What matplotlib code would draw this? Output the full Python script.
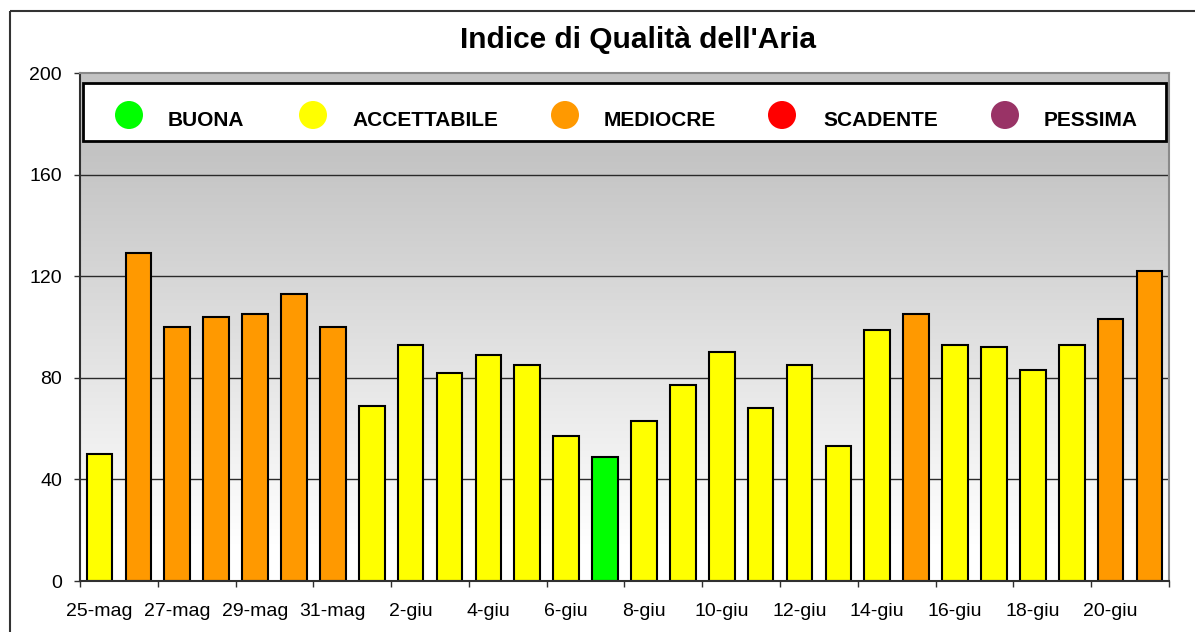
import numpy as np
import matplotlib
matplotlib.use("Agg")
import matplotlib.pyplot as plt
from matplotlib.patches import Rectangle, Ellipse

plt.rcParams['font.family'] = ['Liberation Sans', 'DejaVu Sans']

# ---------------- data ----------------
dates = ["25-mag", "26-mag", "27-mag", "28-mag", "29-mag", "30-mag", "31-mag",
         "1-giu", "2-giu", "3-giu", "4-giu", "5-giu", "6-giu", "7-giu",
         "8-giu", "9-giu", "10-giu", "11-giu", "12-giu", "13-giu", "14-giu",
         "15-giu", "16-giu", "17-giu", "18-giu", "19-giu", "20-giu", "21-giu"]
values = [50, 129, 100, 104, 105, 113, 100, 69, 93, 82, 89, 85, 57, 49,
          63, 77, 90, 68, 85, 53, 99, 105, 93, 92, 83, 93, 103, 122]
classes = ["BUONA", "ACCETTABILE", "MEDIOCRE", "SCADENTE", "PESSIMA"]
class_colors = ["#00ff00", "#ffff00", "#ff9900", "#ff0000", "#993366"]
class_limits = [50, 100, 150, 200]   # lower bound of next class
title = "Indice di Qualità dell'Aria"
y_ticks = [0, 40, 80, 120, 160, 200]


def color_for(v):
    for lim, c in zip(class_limits, class_colors):
        if v < lim:
            return c
    return class_colors[-1]


bar_colors = [color_for(v) for v in values]

# ---------------- figure ----------------
W, H = 1195, 632
fig = plt.figure(figsize=(W / 100, H / 100), dpi=100)
fig.patch.set_facecolor("white")

L, R, T, B = 80, 1169, 73, 581
ax = fig.add_axes([L / W, (H - B) / H, (R - L) / W, (B - T) / H])

n = len(values)
x = np.arange(n)
ax.set_xlim(-0.5, n - 0.5)
ax.set_ylim(0, 200)

# gradient background
yy = np.linspace(0, 200, 400)
g = np.interp(yy, [0, 15, 170, 200], [1.0, 1.0, 0.765, 0.765])
img = np.repeat(g[:, None], 2, axis=1)
img = np.dstack([img, img, img])
ax.imshow(img, extent=(-0.5, n - 0.5, 0, 200), origin="lower",
          aspect="auto", zorder=0, interpolation="bilinear")

for yv in y_ticks[1:-1]:
    ax.axhline(yv, color="#2a2a2a", lw=1.0, zorder=1)

ax.bar(x, values, width=0.66, color=bar_colors, edgecolor="black",
       linewidth=1.5, zorder=3)

# spines
ax.spines["left"].set_color("#303030")
ax.spines["bottom"].set_color("#303030")
ax.spines["top"].set_color("#8a8a8a")
ax.spines["right"].set_color("#8a8a8a")
for s in ax.spines.values():
    s.set_linewidth(1.5)
    s.set_zorder(4)

ax.set_yticks(y_ticks)
ax.set_yticklabels([str(v) for v in y_ticks], fontsize=14)
ax.tick_params(axis="y", direction="out", length=4, width=1, pad=9,
               color="#303030")

ax.set_xticks(x[::2])
ax.set_xticklabels(dates[::2], fontsize=14)
ax.set_xticks(np.arange(-0.5, n, 2), minor=True)
ax.tick_params(axis="x", which="major", length=0, pad=16)
ax.tick_params(axis="x", which="minor", direction="out", length=4, width=1,
               color="#303030")

# ---------------- overlay (title, legend, frame) ----------------
ov = fig.add_axes([0, 0, 1, 1], facecolor="none")
ov.set_xlim(0, W)
ov.set_ylim(H, 0)
ov.axis("off")

ov.add_patch(Rectangle((10, 11), W + 20, H + 20, fill=False,
                       edgecolor="#333333", lw=1.5))

ov.text(638, 40, title, ha="center", va="center", fontsize=21.5,
        fontweight="bold")

ov.add_patch(Rectangle((83, 83), 1166 - 83, 141 - 83, facecolor="white",
                       edgecolor="black", lw=2))
circle_x = [129, 313, 565, 782, 1005]
text_x = [168, 352, 604, 823, 1044]
for cx, tx, lab, col in zip(circle_x, text_x, classes, class_colors):
    ov.add_patch(Ellipse((cx, 115), 28, 28, facecolor=col, edgecolor="none"))
    ov.text(tx, 120, lab, ha="left", va="center", fontsize=15,
            fontweight="bold")

fig.savefig("out.png", dpi=100)
